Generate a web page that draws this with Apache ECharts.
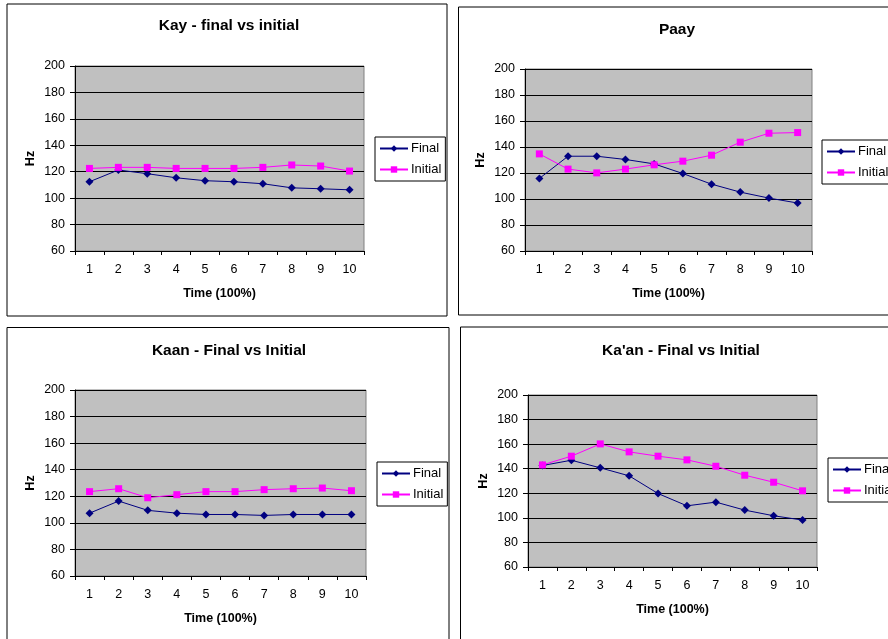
<!DOCTYPE html>
<html>
<head>
<meta charset="utf-8">
<script src="https://cdn.jsdelivr.net/npm/echarts@6/dist/echarts.min.js"></script>
<style>
html,body{margin:0;padding:0;background:#fff;}
#c{width:888px;height:639px;}
</style>
</head>
<body>
<div id="c"></div>
<script>
var categories = ['1','2','3','4','5','6','7','8','9','10'];
var chartTitles = ['Kay - final vs initial', 'Paay', 'Kaan - Final vs Initial', "Ka'an - Final vs Initial"];
var yTicks = [60, 80, 100, 120, 140, 160, 180, 200];
var seriesNames = ['Final', 'Initial'];

var kayFinal   = [112.4, 121.3, 118.5, 115.4, 113.2, 112.4, 110.9, 107.8, 107.1, 106.3];
var kayInitial = [122.5, 123.3, 123.3, 122.5, 122.5, 122.5, 123.3, 125.1, 124.3, 120.5];
var paayFinal   = [115.8, 132.9, 132.9, 130.4, 127.0, 119.6, 111.4, 105.3, 100.7, 96.9];
var paayInitial = [134.7, 123.0, 120.1, 123.0, 126.3, 129.1, 133.7, 143.7, 150.6, 151.1];
var kaanFinal   = [107.3, 116.4, 109.4, 107.3, 106.3, 106.3, 105.6, 106.3, 106.3, 106.3];
var kaanInitial = [123.5, 125.7, 118.9, 121.2, 123.5, 123.5, 125.0, 125.7, 126.2, 124.2];
var kaan2Final   = [142.6, 146.9, 140.7, 134.2, 119.8, 109.8, 112.8, 106.3, 101.7, 98.2];
var kaan2Initial = [143.1, 150.2, 160.2, 153.7, 150.2, 147.2, 142.0, 134.7, 129.0, 122.0];

var panels = [
  {final: kayFinal, initial: kayInitial, grid: {left: 75, top: 66, width: 289, height: 185}, titleX: 229, titleY: 18, legend: {left: 375, top: 137}, box: [7, 4, 440, 312]},
  {final: paayFinal, initial: paayInitial, grid: {left: 525, top: 69, width: 287, height: 182}, titleX: 677, titleY: 22, legend: {left: 822, top: 140}, box: [458.5, 7, 460, 308]},
  {final: kaanFinal, initial: kaanInitial, grid: {left: 75, top: 390, width: 291, height: 186}, titleX: 229, titleY: 343, legend: {left: 377, top: 462}, box: [7, 327.5, 442, 330]},
  {final: kaan2Final, initial: kaan2Initial, grid: {left: 528, top: 395, width: 289, height: 172}, titleX: 681, titleY: 343, legend: {left: 828, top: 458}, box: [460.5, 327, 460, 330]}
];

var FONT = 'Liberation Sans, Arial, sans-serif';
var option = {
  animation: false,
  backgroundColor: '#ffffff',
  title: [], grid: [], xAxis: [], yAxis: [], legend: [], series: [],
  graphic: []
};

panels.forEach(function (p, i) {
  option.graphic.push({
    type: 'rect', silent: true, z: -10,
    shape: {x: p.box[0], y: p.box[1], width: p.box[2], height: p.box[3]},
    style: {fill: '#ffffff', stroke: '#000000', lineWidth: 1}
  });
  option.title.push({
    text: chartTitles[i], left: p.titleX, top: p.titleY, textAlign: 'center', padding: 0,
    textStyle: {fontFamily: FONT, fontSize: 15.5, fontWeight: 'bold', color: '#000'}
  });
  option.grid.push({
    left: p.grid.left, top: p.grid.top, width: p.grid.width, height: p.grid.height,
    show: true, backgroundColor: '#C0C0C0', borderColor: '#808080', borderWidth: 1, containLabel: false
  });
  option.xAxis.push({
    type: 'category', gridIndex: i, data: categories, boundaryGap: true,
    name: 'Time (100%)', nameLocation: 'middle', nameGap: 36,
    nameTextStyle: {fontFamily: FONT, fontSize: 12.5, fontWeight: 'bold', color: '#000'},
    axisLine: {show: true, lineStyle: {color: '#000', width: 1}},
    axisTick: {show: true, interval: 0, length: 4, lineStyle: {color: '#000'}},
    axisLabel: {interval: 0, margin: 12, fontFamily: FONT, fontSize: 12.5, color: '#000'},
    splitLine: {show: false}
  });
  option.yAxis.push({
    type: 'value', gridIndex: i, min: yTicks[0], max: yTicks[yTicks.length - 1], interval: 20,
    name: 'Hz', nameLocation: 'middle', nameGap: 38, nameRotate: 90,
    nameTextStyle: {fontFamily: FONT, fontSize: 12.5, fontWeight: 'bold', color: '#000'},
    axisLine: {show: true, lineStyle: {color: '#000', width: 1}},
    axisTick: {show: true, length: 5, lineStyle: {color: '#000'}},
    axisLabel: {margin: 10, fontFamily: FONT, fontSize: 12.5, color: '#000'},
    splitLine: {show: true, lineStyle: {color: '#000', width: 1}}
  });
  option.legend.push({
    left: p.legend.left, top: p.legend.top, orient: 'vertical',
    data: seriesNames.map(function (n) { return n; }),
    borderColor: '#000', borderWidth: 1, backgroundColor: '#fff', borderRadius: 0,
    padding: [5, 4, 5, 4], itemGap: 8, itemWidth: 28, itemHeight: 8,
    textStyle: {fontFamily: FONT, fontSize: 13, color: '#000', padding: [0, 0, 0, -2]},
    selectedMode: false
  });
  option.series.push({
    name: 'Final', type: 'line', xAxisIndex: i, yAxisIndex: i, data: p.final,
    symbol: 'diamond', symbolSize: 8, color: '#000080',
    lineStyle: {color: '#000080', width: 1}, itemStyle: {color: '#000080'}
  });
  option.series.push({
    name: 'Initial', type: 'line', xAxisIndex: i, yAxisIndex: i, data: p.initial,
    symbol: 'rect', symbolSize: 7, color: '#FF00FF',
    lineStyle: {color: '#FF00FF', width: 1}, itemStyle: {color: '#FF00FF'}
  });
});

var chart = echarts.init(document.getElementById('c'), null, {renderer: 'canvas'});
chart.setOption(option);
</script>
</body>
</html>
